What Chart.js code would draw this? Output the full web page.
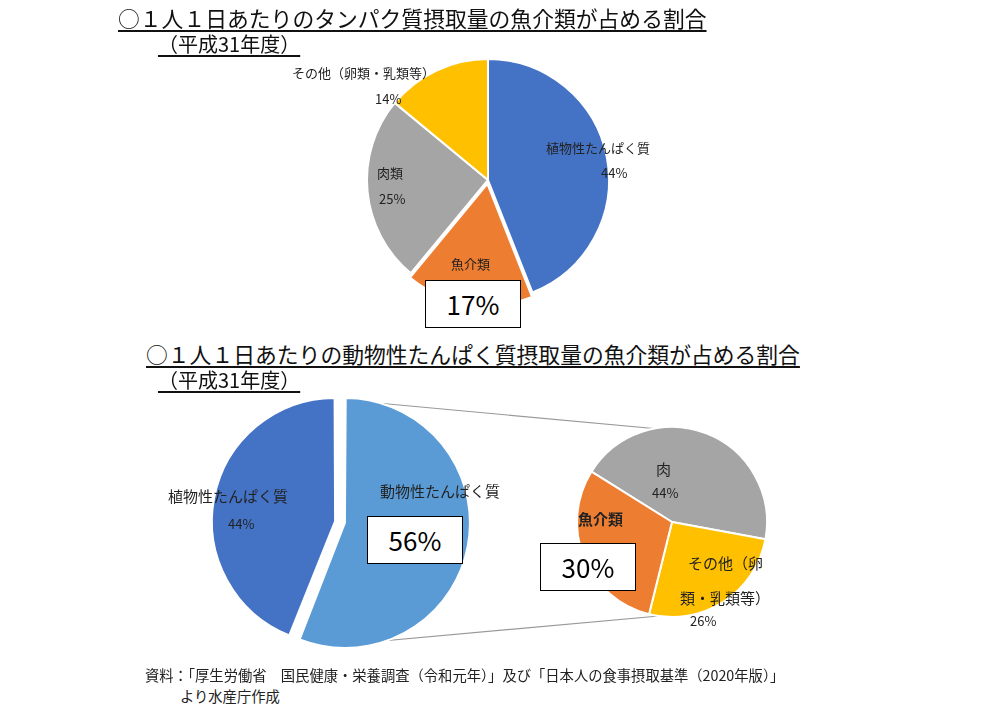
<!DOCTYPE html>
<html><head><meta charset="utf-8">
<script src="https://cdn.jsdelivr.net/npm/chart.js@4/dist/chart.umd.min.js"></script>
<style>
body{margin:0;background:#fff;font-family:"Noto Sans CJK JP","Noto Sans",sans-serif;}
#wrap{position:relative;width:1000px;height:710px;overflow:hidden;}
.c{position:absolute;}
.t{position:absolute;white-space:nowrap;color:#222;font-size:13px;}
.h{position:absolute;white-space:nowrap;font-size:21.8px;color:#111;text-decoration:underline;text-underline-offset:3px;}
.box{position:absolute;border:1.5px solid #000;background:#fff;font-size:26px;text-align:center;line-height:46px;width:94px;height:46px;}
</style></head><body>
<div id="wrap">
<svg class="c" style="left:0;top:0" width="1000" height="710">
<line x1="345" y1="400" x2="670" y2="430" stroke="#999" stroke-width="1.2"/>
<line x1="338" y1="645" x2="670" y2="615" stroke="#999" stroke-width="1.2"/>
</svg>
<canvas id="topPie" class="c" style="left:338px;top:30px" width="300" height="300"></canvas>
<canvas id="bigPie" class="c" style="left:190px;top:372px" width="300" height="300"></canvas>
<canvas id="smallPie" class="c" style="left:562px;top:412px" width="220" height="220"></canvas>

<div class="h" style="left:118px;top:2px">○１人１日あたりのタンパク質摂取量の魚介類が占める割合</div>
<div class="h" style="left:158px;top:29px;font-size:20px">（平成31年度）</div>
<div class="h" style="left:146px;top:338px">○１人１日あたりの動物性たんぱく質摂取量の魚介類が占める割合</div>
<div class="h" style="left:158px;top:365px;font-size:20px">（平成31年度）</div>

<div class="t" style="left:292px;top:63px">その他（卵類・乳類等）</div>
<div class="t" style="left:375px;top:89px">14%</div>
<div class="t" style="left:546px;top:138px">植物性たんぱく質</div>
<div class="t" style="left:601px;top:163px">44%</div>
<div class="t" style="left:377px;top:163px">肉類</div>
<div class="t" style="left:379px;top:189px">25%</div>
<div class="t" style="left:451px;top:254px">魚介類</div>
<div class="box" style="left:425px;top:280px">17%</div>

<div class="t" style="left:168px;top:485px;font-size:15px">植物性たんぱく質</div>
<div class="t" style="left:228px;top:514px">44%</div>
<div class="t" style="left:380px;top:480px;font-size:15px">動物性たんぱく質</div>
<div class="box" style="left:367px;top:516px">56%</div>

<div class="t" style="left:656px;top:458px;font-size:15px">肉</div>
<div class="t" style="left:652px;top:483px">44%</div>
<div class="t" style="left:578px;top:508px;font-size:15px;font-weight:bold">魚介類</div>
<div class="box" style="left:540px;top:543px">30%</div>
<div class="t" style="left:688px;top:552px;font-size:15px">その他（卵</div>
<div class="t" style="left:680px;top:587px;font-size:15px">類・乳類等）</div>
<div class="t" style="left:690px;top:611px">26%</div>

<div class="t" style="left:145px;top:664px;font-size:14.3px">資料：「厚生労働省　国民健康・栄養調査（令和元年）」及び「日本人の食事摂取基準（2020年版）」</div>
<div class="t" style="left:180px;top:685px;font-size:14.3px">より水産庁作成</div>
</div>
<script>
const topLabels = ['植物性たんぱく質', '魚介類', '肉類', 'その他（卵類・乳類等）'];
const topValues = [44, 17, 25, 14];
const bigLabels = ['動物性たんぱく質', '植物性たんぱく質'];
const bigValues = [56, 44];
const smallLabels = ['肉', 'その他（卵類・乳類等）', '魚介類'];
const smallValues = [44, 26, 30];

const base = {
    responsive: false,
    animation: false,
    plugins: { legend: { display: false }, tooltip: { enabled: false } }
};

new Chart(document.getElementById('topPie'), {
    type: 'pie',
    data: {
        labels: topLabels,
        datasets: [{
            data: topValues,
            backgroundColor: ['#4472C4', '#ED7D31', '#A5A5A5', '#FFC000'],
            borderColor: '#fff',
            borderWidth: 2,
            offset: [0, 16, 0, 0],
            radius: 121
        }]
    },
    options: base
});

new Chart(document.getElementById('bigPie'), {
    type: 'pie',
    data: {
        labels: bigLabels,
        datasets: [{
            data: bigValues,
            backgroundColor: ['#5B9BD5', '#4472C4'],
            borderColor: '#fff',
            borderWidth: 2,
            offset: [20, 20],
            radius: 120
        }]
    },
    options: base
});

new Chart(document.getElementById('smallPie'), {
    type: 'pie',
    data: {
        labels: smallLabels,
        datasets: [{
            data: smallValues,
            backgroundColor: ['#A5A5A5', '#FFC000', '#ED7D31'],
            borderColor: '#fff',
            borderWidth: 2,
            radius: 95
        }]
    },
    options: Object.assign({ rotation: -58 }, base)
});
</script>
</body></html>
